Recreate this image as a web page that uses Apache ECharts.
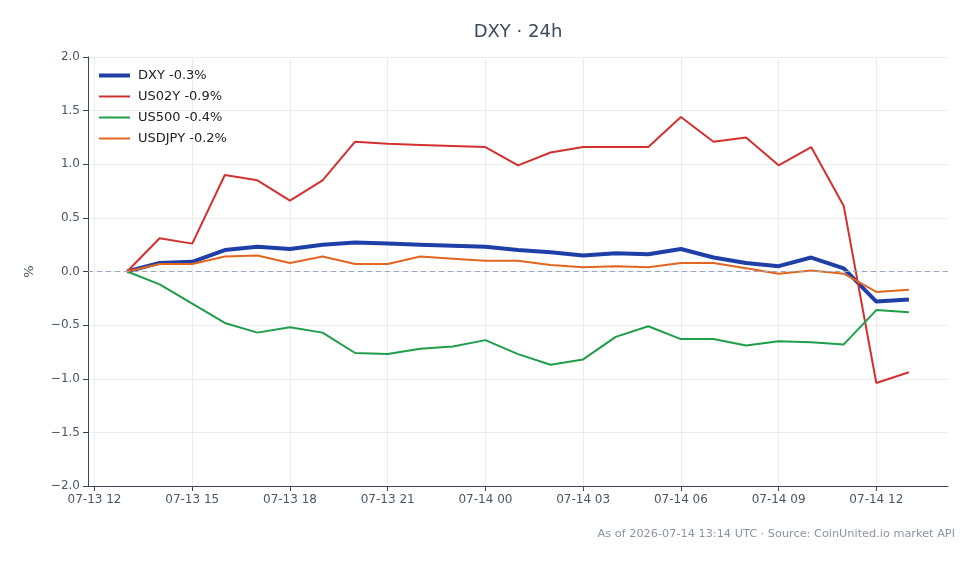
<!DOCTYPE html>
<html>
<head>
<meta charset="utf-8">
<script src="https://cdn.jsdelivr.net/npm/echarts@6/dist/echarts.min.js"></script>
<style>html,body{margin:0;padding:0;background:#fff;}#c{width:979px;height:564px;}</style>
</head>
<body>
<div id="c"></div>
<script>
// hours since 2026-07-13 00:00 UTC
const hours = [13, 14, 15, 16, 17, 18, 19, 20, 21, 22, 23, 24, 25, 26, 27, 28, 29, 30, 31, 32, 33, 34, 35, 36, 37];
const dxy    = [0, 0.08, 0.09, 0.20, 0.23, 0.21, 0.25, 0.27, 0.26, 0.25, 0.24, 0.23, 0.20, 0.18, 0.15, 0.17, 0.16, 0.21, 0.13, 0.08, 0.05, 0.13, 0.03, -0.28, -0.26];
const us02y  = [0, 0.31, 0.26, 0.90, 0.85, 0.66, 0.85, 1.21, 1.19, 1.18, 1.17, 1.16, 0.99, 1.11, 1.16, 1.16, 1.16, 1.44, 1.21, 1.25, 0.99, 1.16, 0.61, -1.04, -0.94];
const us500  = [0, -0.12, -0.30, -0.48, -0.57, -0.52, -0.57, -0.76, -0.77, -0.72, -0.70, -0.64, -0.77, -0.87, -0.82, -0.61, -0.51, -0.63, -0.63, -0.69, -0.65, -0.66, -0.68, -0.36, -0.38];
const usdjpy = [0, 0.07, 0.07, 0.14, 0.15, 0.08, 0.14, 0.07, 0.07, 0.14, 0.12, 0.10, 0.10, 0.06, 0.04, 0.05, 0.04, 0.08, 0.08, 0.03, -0.02, 0.01, -0.02, -0.19, -0.17];
const seriesNames = ['DXY -0.3%', 'US02Y -0.9%', 'US500 -0.4%', 'USDJPY -0.2%'];
const xTickHours = [12, 15, 18, 21, 24, 27, 30, 33, 36];
const xTickLabels = ['07-13 12', '07-13 15', '07-13 18', '07-13 21', '07-14 00', '07-14 03', '07-14 06', '07-14 09', '07-14 12'];
const yTicks = [-2.0, -1.5, -1.0, -0.5, 0.0, 0.5, 1.0, 1.5, 2.0];

const xMin = 11.8, xMax = 38.2;
const toPairs = arr => arr.map((v, i) => [hours[i], v]);

const colors = ['#1e3fa8', '#d33030', '#1f9e4a', '#e2661f'];
const widths = [4, 2, 2, 2];

const chart = echarts.init(document.getElementById('c'), null, {renderer: 'canvas'});
const axisColor = '#3b4658';
const labelColor = '#4a5565';
const gridColor = '#e9edf2';

chart.setOption({
  animation: false,
  backgroundColor: '#ffffff',
  textStyle: {fontFamily: 'DejaVu Sans'},
  grid: {left: 88, right: 31, top: 57, bottom: 78, containLabel: false},
  legend: {
    orient: 'vertical', left: 92, top: 64,
    itemWidth: 31, itemHeight: 14, itemGap: 8,
    itemStyle: {color: 'rgba(0,0,0,0)', borderWidth: 0},
    textStyle: {fontSize: 13, color: '#222', fontFamily: 'DejaVu Sans', padding: [0, 0, 0, 3]},
    data: seriesNames.map((n, i) => ({name: n, lineStyle: {width: widths[i], color: colors[i]}}))
  },
  xAxis: {
    type: 'value', min: xMin, max: xMax,
    axisLine: {show: true, onZero: false, lineStyle: {color: axisColor, width: 1}},
    axisTick: {show: true, length: 5, lineStyle: {color: axisColor}, customValues: xTickHours},
    splitLine: {show: true, lineStyle: {color: gridColor, width: 1}},
    axisLabel: {
      color: labelColor, fontSize: 12, margin: 8, customValues: xTickHours,
      formatter: function (v) {
        const i = xTickHours.indexOf(Math.round(v));
        return i >= 0 ? xTickLabels[i] : '';
      }
    }
  },
  yAxis: {
    type: 'value', min: yTicks[0], max: yTicks[yTicks.length - 1], interval: 0.5,
    name: '%', nameLocation: 'middle', nameGap: 52, nameRotate: 90,
    nameTextStyle: {color: labelColor, fontSize: 13},
    axisLine: {show: true, lineStyle: {color: axisColor, width: 1}},
    axisTick: {show: true, length: 5, lineStyle: {color: axisColor}},
    splitLine: {show: true, lineStyle: {color: gridColor, width: 1}},
    axisLabel: {
      color: labelColor, fontSize: 12, margin: 8,
      formatter: v => v.toFixed(1).replace('-', '\u2212')
    }
  },
  series: [
    {name: seriesNames[0], type: 'line', data: toPairs(dxy), showSymbol: false, symbol: 'none',
     lineStyle: {width: widths[0], color: colors[0]}, itemStyle: {color: colors[0]}, z: 2,
     markLine: {silent: true, symbol: ['none', 'none'], label: {show: false},
       lineStyle: {type: [5, 4], color: '#9aa5b8', width: 1}, data: [{yAxis: 0}]}},
    {name: seriesNames[1], type: 'line', data: toPairs(us02y), showSymbol: false, symbol: 'none',
     lineStyle: {width: widths[1], color: colors[1]}, itemStyle: {color: colors[1]}, z: 3},
    {name: seriesNames[2], type: 'line', data: toPairs(us500), showSymbol: false, symbol: 'none',
     lineStyle: {width: widths[2], color: colors[2]}, itemStyle: {color: colors[2]}, z: 3},
    {name: seriesNames[3], type: 'line', data: toPairs(usdjpy), showSymbol: false, symbol: 'none',
     lineStyle: {width: widths[3], color: colors[3]}, itemStyle: {color: colors[3]}, z: 3}
  ],
  graphic: [
    {type: 'text', x: 518, y: 32.5, style: {text: 'DXY \u00b7 24h', align: 'center', verticalAlign: 'middle',
      fontSize: 18, fill: '#3d4a5c', fontFamily: 'DejaVu Sans'}},
    {type: 'text', x: 955, y: 534, style: {text: 'As of 2026-07-14 13:14 UTC \u00b7 Source: CoinUnited.io market API',
      align: 'right', verticalAlign: 'middle', fontSize: 11.3, fill: '#8a94a6', fontFamily: 'DejaVu Sans'}}
  ]
});
</script>
</body>
</html>
